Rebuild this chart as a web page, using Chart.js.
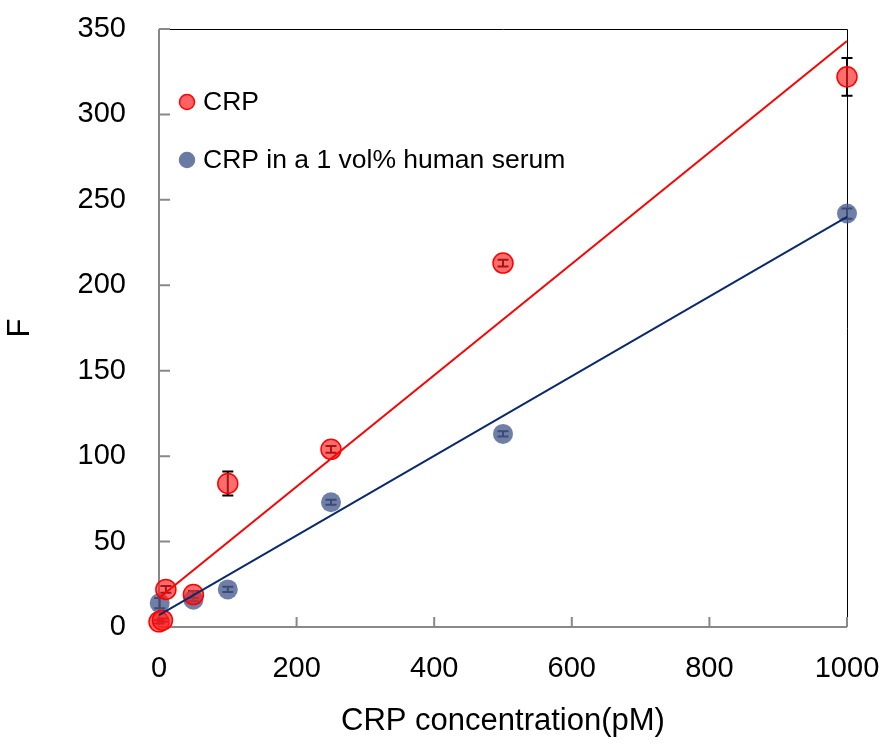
<!DOCTYPE html>
<html>
<head>
<meta charset="utf-8">
<script src="https://cdn.jsdelivr.net/npm/chart.js@4/dist/chart.umd.min.js"></script>
<style>
  html, body { margin: 0; padding: 0; background: #fff; }
  #wrap { width: 888px; height: 746px; }
</style>
</head>
<body>
<div id="wrap"><canvas id="chart" width="888" height="746"></canvas></div>
<script>
// values
const crpX = [0, 5, 10, 50, 100, 250, 500, 1000];
const crpF = [3, 4, 22, 19, 84, 104, 213, 322];
const crpErr = [1, 1, 2, 2, 7, 2, 2, 11];

const serumX = [1, 50, 100, 250, 500, 1000];
const serumF = [14, 16, 22, 73, 113, 242];
const serumErr = [3, 1, 1.5, 1.5, 1.5, 3];

const fitX = [0, 1000];
const crpFit = [17, 343];
const serumFit = [7, 240];

const xTicks = [0, 200, 400, 600, 800, 1000];
const yTicks = [0, 50, 100, 150, 200, 250, 300, 350];

const FONT = "'Liberation Sans', Arial, sans-serif";

function pts(xs, ys) {
    return xs.map((x, i) => ({ x: x, y: ys[i] }));
}

// error bars, drawn under the translucent markers
const errorBars = {
    id: "errorBars",
    beforeDatasetsDraw(chart) {
        const ctx = chart.ctx;
        const xs = chart.scales.x, ys = chart.scales.y;
        const sets = [[crpX, crpF, crpErr], [serumX, serumF, serumErr]];
        ctx.save();
        ctx.strokeStyle = "#000";
        ctx.lineWidth = 2;
        sets.forEach(([X, Y, E]) => {
            X.forEach((x, i) => {
                const px = xs.getPixelForValue(x);
                const top = ys.getPixelForValue(Y[i] + E[i]);
                const bot = ys.getPixelForValue(Y[i] - E[i]);
                ctx.beginPath();
                ctx.moveTo(px, top); ctx.lineTo(px, bot);
                ctx.moveTo(px - 5.5, top); ctx.lineTo(px + 5.5, top);
                ctx.moveTo(px - 5.5, bot); ctx.lineTo(px + 5.5, bot);
                ctx.stroke();
            });
        });
        ctx.restore();
    }
};

// frame, inward ticks and legend inside the plot
const frame = {
    id: "frame",
    beforeDatasetsDraw(chart) {
        const ctx = chart.ctx;
        const a = chart.chartArea;
        const xs = chart.scales.x, ys = chart.scales.y;
        ctx.save();
        ctx.strokeStyle = "#000";
        ctx.lineWidth = 1;
        ctx.beginPath();
        ctx.moveTo(a.left, a.top + 0.5); ctx.lineTo(a.right + 0.5, a.top + 0.5);
        ctx.lineTo(a.right + 0.5, a.bottom);
        ctx.stroke();
        ctx.strokeStyle = "#888";
        ctx.lineWidth = 2;
        ctx.beginPath();
        ctx.moveTo(a.left, a.top); ctx.lineTo(a.left, a.bottom); ctx.lineTo(a.right, a.bottom);
        xTicks.forEach(v => {
            const p = xs.getPixelForValue(v);
            ctx.moveTo(p, a.bottom); ctx.lineTo(p, a.bottom - 10);
        });
        yTicks.forEach(v => {
            const p = ys.getPixelForValue(v);
            ctx.moveTo(a.left, p); ctx.lineTo(a.left + 11, p);
        });
        ctx.stroke();
        ctx.restore();
    },
    afterDraw(chart) {
        const ctx = chart.ctx;
        const items = [
            { text: chart.data.datasets[0].label, fill: "rgba(255,70,70,0.85)", stroke: "#ff0000", y: 102 },
            { text: chart.data.datasets[1].label, fill: "#6a7ba3", stroke: "#6a7ba3", y: 160 }
        ];
        ctx.save();
        ctx.font = "26.5px " + FONT;
        ctx.textBaseline = "middle";
        items.forEach(it => {
            ctx.beginPath();
            ctx.arc(187, it.y, 7.5, 0, Math.PI * 2);
            ctx.fillStyle = it.fill;
            ctx.fill();
            ctx.lineWidth = 1.5;
            ctx.strokeStyle = it.stroke;
            ctx.stroke();
            ctx.fillStyle = "#000";
            ctx.fillText(it.text, 203, it.y + 1);
        });
        ctx.restore();
    }
};

function noPad(s) {
    s.paddingTop = 0; s.paddingBottom = 0; s.paddingLeft = 0; s.paddingRight = 0;
}

new Chart(document.getElementById("chart"), {
    type: "scatter",
    data: {
        datasets: [
            {
                label: "CRP",
                data: pts(crpX, crpF),
                backgroundColor: "rgba(255, 30, 30, 0.65)",
                borderColor: "#ff0000",
                borderWidth: 1.5,
                pointRadius: 10,
                order: 2,
                clip: false
            },
            {
                label: "CRP in a 1 vol% human serum",
                data: pts(serumX, serumF),
                backgroundColor: "rgba(75, 95, 145, 0.8)",
                borderColor: "rgba(75, 95, 145, 0.8)",
                borderWidth: 0,
                pointRadius: 10,
                order: 3,
                clip: false
            },
            {
                type: "line",
                label: "CRP fit",
                data: pts(fitX, crpFit),
                borderColor: "#ff0000",
                borderWidth: 2,
                pointRadius: 0,
                order: 0,
                clip: false
            },
            {
                type: "line",
                label: "serum fit",
                data: pts(fitX, serumFit),
                borderColor: "#0a2a6e",
                borderWidth: 2,
                pointRadius: 0,
                order: 1,
                clip: false
            }
        ]
    },
    options: {
        responsive: false,
        animation: false,
        layout: { padding: { left: 0, right: 41, top: 29, bottom: 0 } },
        plugins: {
            legend: { display: false },
            tooltip: { enabled: false }
        },
        scales: {
            x: {
                type: "linear",
                min: 0,
                max: 1000,
                afterFit: s => { s.height = 119; noPad(s); },
                afterBuildTicks: s => { s.ticks = xTicks.map(v => ({ value: v })); },
                grid: { display: false },
                border: { display: false },
                ticks: {
                    color: "#000", font: { family: FONT, size: 29 }, padding: 17, maxRotation: 0,
                    callback: v => String(v)
                },
                title: {
                    display: true,
                    text: "CRP concentration(pM)",
                    color: "#000",
                    font: { family: FONT, size: 31 },
                    padding: { top: 4, bottom: 6 }
                }
            },
            y: {
                min: 0,
                max: 350,
                afterFit: s => { s.width = 159; noPad(s); },
                afterBuildTicks: s => { s.ticks = yTicks.map(v => ({ value: v })); },
                grid: { display: false },
                border: { display: false },
                ticks: { color: "#000", font: { family: FONT, size: 29 }, padding: 25 },
                title: {
                    display: true,
                    text: "F",
                    color: "#000",
                    font: { family: FONT, size: 31 },
                    padding: { top: 2, bottom: 4 }
                }
            }
        }
    },
    plugins: [frame, errorBars]
});
</script>
</body>
</html>
